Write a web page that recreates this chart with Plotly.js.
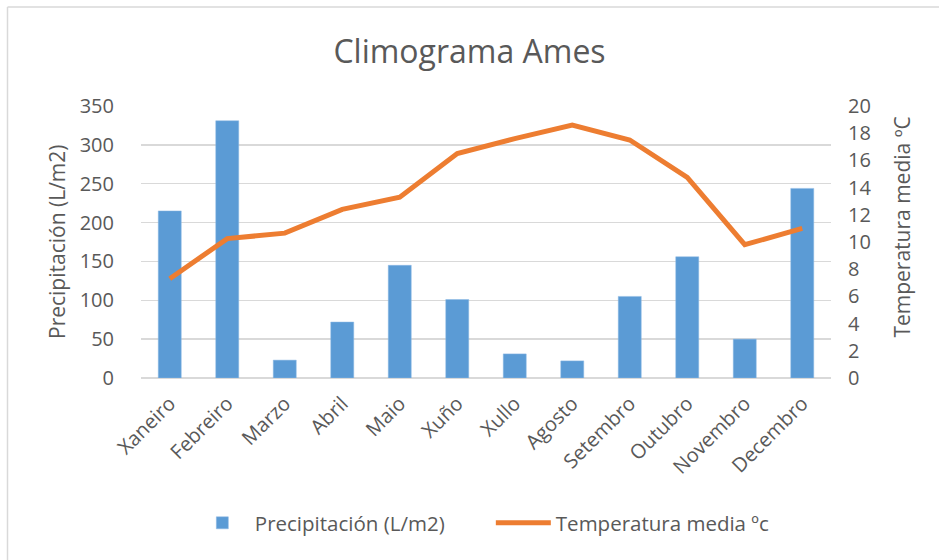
<!DOCTYPE html>
<html>
<head>
<meta charset="utf-8">
<script src="https://cdn.plot.ly/plotly-3.0.1.min.js"></script>
<style>html,body{margin:0;padding:0;background:#fff;}#chart{width:939px;height:560px;}</style>
</head>
<body>
<div id="chart"></div>
<script>
const months = ["Xaneiro","Febreiro","Marzo","Abril","Maio","Xuño","Xullo","Agosto","Setembro","Outubro","Novembro","Decembro"];
const precipitation = [215, 331, 23, 72, 145, 101, 31, 22, 105, 156, 50, 244];
const temperature = [7.3, 10.25, 10.65, 12.4, 13.3, 16.5, 17.6, 18.6, 17.5, 14.75, 9.8, 11.0];
const precipTicks = [0, 50, 100, 150, 200, 250, 300, 350];
const tempTicks = [0, 2, 4, 6, 8, 10, 12, 14, 16, 18, 20];

const font = "'Open Sans', 'Noto Sans', sans-serif";
const grey = "#595959";

const traces = [
  {
    type: "bar", x: months, y: precipitation, name: "Precipitación (L/m2)",
    marker: {color: "#5b9bd5", line: {color: "#8db9e4", width: 0.5}}
  },
  {
    type: "scatter", mode: "lines", x: months, y: temperature, yaxis: "y2",
    name: "Temperatura media ºc",
    line: {color: "#ed7d31", width: 5, shape: "linear"}
  }
];

const layout = {
  width: 939, height: 560,
  margin: {l: 141, r: 108, t: 106, b: 182},
  paper_bgcolor: "#fff", plot_bgcolor: "#fff",
  font: {family: font, color: grey, size: 20},
  title: {text: "Climograma Ames", font: {family: font, size: 32, color: grey},
          x: 0.5, xanchor: "center", y: 1 - 52/560, yanchor: "middle", yref: "container"},
  bargap: 0.6,
  showlegend: true,
  legend: {orientation: "h", x: 0.507, xanchor: "center", y: -0.533, yanchor: "middle",
           font: {family: font, size: 20.5, color: grey}, itemwidth: 55, traceorder: "normal",
           entrywidth: 231, entrywidthmode: "pixels"},
  xaxis: {
    type: "category", tickangle: -45, tickfont: {size: 20, color: grey},
    ticks: "outside", ticklen: 5, tickcolor: "rgba(0,0,0,0)",
    showline: false, showgrid: false, zeroline: false, fixedrange: true
  },
  yaxis: {
    range: [0, 350], tickvals: precipTicks, ticktext: precipTicks.map(String),
    showgrid: true, gridcolor: "#d9d9d9", gridwidth: 1.3,
    zeroline: true, zerolinecolor: "#d9d9d9", zerolinewidth: 2,
    ticks: "outside", ticklen: 22, tickcolor: "rgba(0,0,0,0)",
    tickfont: {size: 20, color: grey}, showline: false
  },
  yaxis2: {
    range: [0, 20], tickvals: tempTicks, ticktext: tempTicks.map(String),
    overlaying: "y", side: "right", showgrid: false, zeroline: false,
    ticks: "outside", ticklen: 12, tickcolor: "rgba(0,0,0,0)",
    tickfont: {size: 20, color: grey}, showline: false
  },
  annotations: [
    {text: "Precipitación (L/m2)", xref: "paper", yref: "paper", x: (57-141)/690, y: 0.5,
     textangle: -90, showarrow: false, xanchor: "center", yanchor: "middle",
     font: {family: font, size: 21, color: grey}},
    {text: "Temperatura media ºC", xref: "paper", yref: "paper", x: (902-141)/690, y: 0.553,
     textangle: -90, showarrow: false, xanchor: "center", yanchor: "middle",
     font: {family: font, size: 21, color: grey}}
  ],
  shapes: [
    {type: "line", xref: "paper", yref: "paper", x0: (7.5-141)/690, x1: (7.5-141)/690,
     y0: (378-7)/272, y1: (378-560)/272, line: {color: "#d9d9d9", width: 1.5}},
    {type: "line", xref: "paper", yref: "paper", x0: (7.5-141)/690, x1: (939-141)/690,
     y0: (378-7)/272, y1: (378-7)/272, line: {color: "#d9d9d9", width: 1.5}}
  ]
};

Plotly.newPlot("chart", traces, layout, {displayModeBar: false, staticPlot: true});
</script>
</body>
</html>
